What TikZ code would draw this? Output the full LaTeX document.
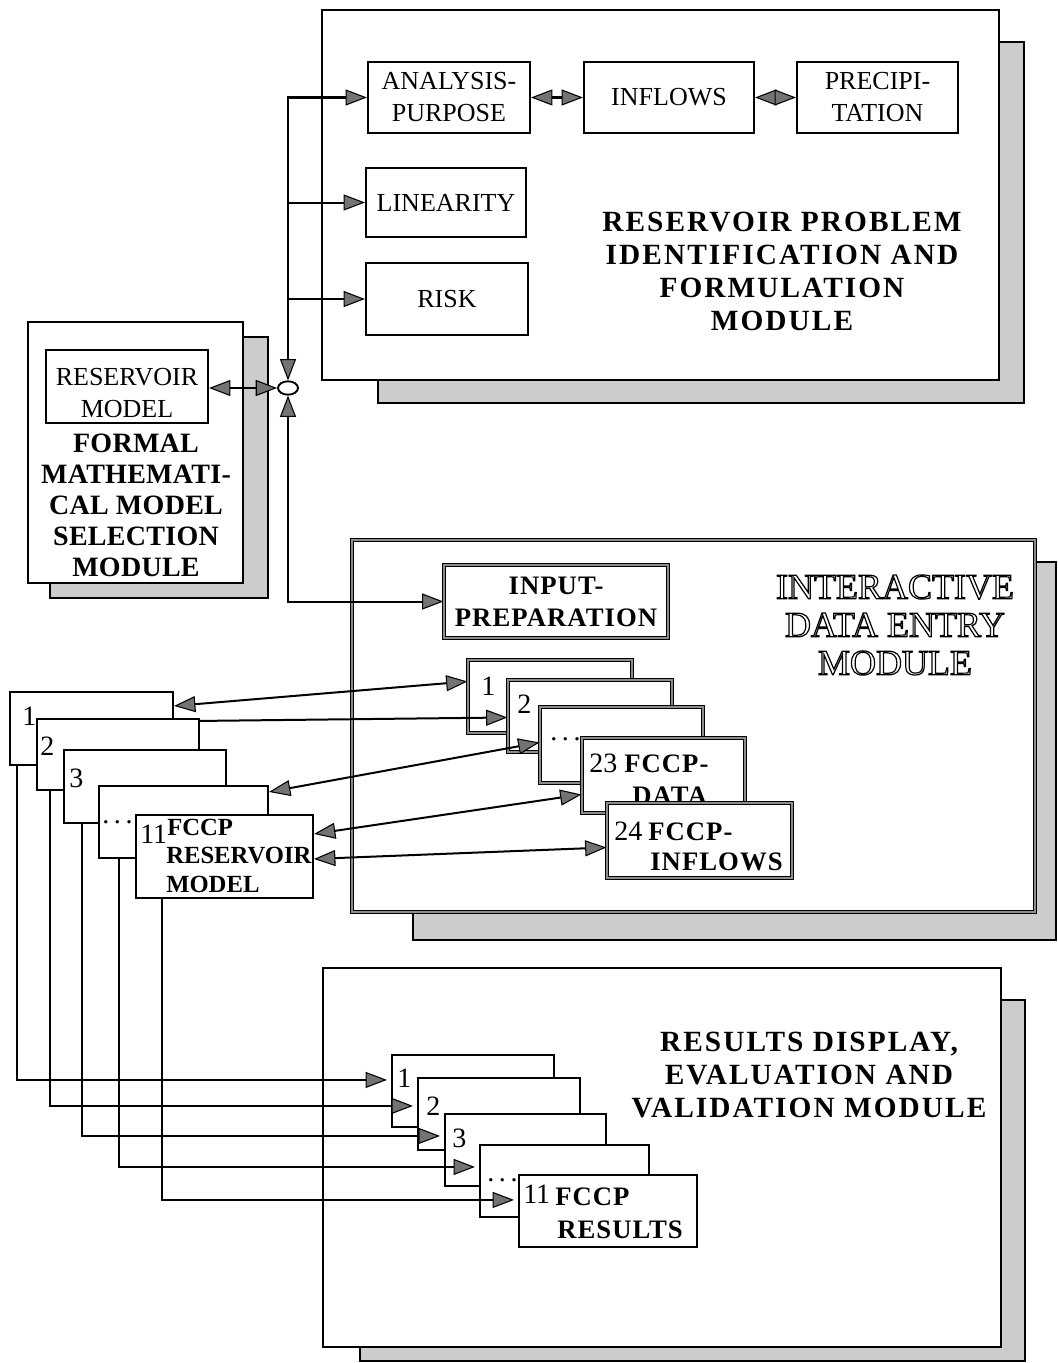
\documentclass[tikz,border=0pt]{standalone}
\usepackage{fontspec}
\setmainfont{Liberation Serif}
\newfontfamily\spA{Liberation Serif}[LetterSpace=4]
\newfontfamily\spB{Liberation Serif}[LetterSpace=7]
\newfontfamily\spC{Liberation Serif}[LetterSpace=1]
\usetikzlibrary{arrows.meta,calc,fit,shapes.geometric}
\newcommand{\olText}[1]{{\color{white}\special{pdf:literal direct 0 G 0.9 w 2 Tr}#1\special{pdf:literal direct 0 Tr}}}
\tikzset{
  GT/.tip={Triangle[length=16pt,width=12pt,fill=black!55,line width=0.8pt]},
  bx/.style={draw, line width=1.6pt, fill=white, inner sep=0pt},
  dbox/.style={draw=black, line width=0.8pt, double=black!45, double distance=1.1pt, fill=white, inner sep=0pt},
  shd/.style={fill=black!20, draw=black, line width=1.3pt},
  conn/.style={line width=1.5pt},
  plbl/.style={inner sep=0pt, align=center, font=\fontsize{19.5}{24}\selectfont},
  blbl/.style={inner sep=0pt, align=center, font=\spA\bfseries\fontsize{20}{24}\selectfont},
  numl/.style={inner sep=0pt, anchor=base west, font=\fontsize{21}{24}\selectfont},
  blab/.style={inner sep=0pt, anchor=base west, font=\spA\bfseries\fontsize{20}{24}\selectfont},
  blab0/.style={inner sep=0pt, anchor=base west, font=\bfseries\fontsize{18.5}{24}\selectfont},
  ttl/.style={inner sep=0pt, align=center, font=\spB\bfseries\fontsize{22}{24.75}\selectfont},
  ttlL/.style={inner sep=0pt, align=center, font=\spC\bfseries\fontsize{21}{23.25}\selectfont},
  ttlD/.style={inner sep=0pt, align=center, font=\fontsize{27}{28.5}\selectfont},
}
\begin{document}
\begin{tikzpicture}[x=0.75pt,y=-0.75pt]
\useasboundingbox (0,0) rectangle (1057,1363);
\fill[white] (0,0) rectangle (1057,1363);

% ---------- top module ----------
\draw[shd] (378,42) rectangle (1024,403);
\node[bx, fit={(322,10)(999,380)}] (modT) {};
\node[bx, fit={(368,62)(530,133)}] (ap) {};
\node[plbl] (apt) at (ap.center) {ANALYSIS-\\PURPOSE};
\node[bx, fit={(584,62)(754,133)}] (infl) {};
\node[plbl] (inflt) at (infl.center) {INFLOWS};
\node[bx, fit={(797,62)(958,133)}] (prec) {};
\node[plbl] (prect) at (prec.center) {PRECIPI-\\TATION};
\node[bx, fit={(366,168)(526,237)}] (lin) {};
\node[plbl] (lint) at (lin.center) {LINEARITY};
\node[bx, fit={(366,263)(528,335)}] (risk) {};
\node[plbl] (riskt) at (risk.center) {RISK};
\node[ttl] (ttop) at (782,271) {RESERVOIR PROBLEM\\IDENTIFICATION AND\\FORMULATION\\MODULE};

% ---------- left module ----------
\draw[shd] (50,337) rectangle (268,598);
\node[bx, fit={(28,322)(243,583)}] (modL) {};
\node[bx, fit={(46,350)(208,423)}] (rm) {};
\node[plbl] (rmt) at (127,393) {RESERVOIR\\MODEL};
\node[ttlL] (tleft) at (136,505) {FORMAL\\MATHEMATI-\\CAL MODEL\\SELECTION\\MODULE};

% ---------- junction ----------
\node[ellipse, draw, line width=1.4pt, fill=white, minimum width=15pt, minimum height=10pt, inner sep=0pt] (circ) at (288,388) {};

% ---------- data entry module ----------
\draw[shd] (413,562) rectangle (1056,940);
\node[dbox, fit={(352,540)(1035,912)}] (modD) {};
\node[dbox, fit={(444,565)(668,638)}] (ip) {};
\node[blbl] (ipt) at (ip.center) {INPUT-\\PREPARATION};
\node[ttlD] (tdata) at (895,625) {\olText{INTERACTIVE}\\\olText{DATA ENTRY}\\\olText{MODULE}};
\node[dbox, fit={(468,660)(632,733)}] (D1) {};
\node[numl] (d1t) at (481,695) {1};
\node[dbox, fit={(508,680)(672,752)}] (D2) {};
\node[numl] (d2t) at (517,713) {2};
\node[dbox, fit={(540,707)(703,783)}] (D3) {};
\node[numl] (d3t) at (550,740) {.\,.\,.};
\node[dbox, fit={(582,738)(745,813)}] (D23) {};
\node[numl] (d23n) at (589,772) {23};
\node[blab] (d23a) at (624,772) {FCCP-};
\node[blab] (d23b) at (632,804) {DATA};
\node[dbox, fit={(607,803)(792,878)}] (D24) {};
\node[numl] (d24n) at (614,840) {24};
\node[blab] (d24a) at (648,840) {FCCP-};
\node[blab] (d24b) at (650,870) {INFLOWS};

% ---------- left stack ----------
\node[bx, fit={(10,692)(173,765)}] (L1) {};
\node[numl] (l1t) at (22,725) {1};
\node[bx, fit={(37,719)(199,790)}] (L2) {};
\node[numl] (l2t) at (40,755) {2};
\node[bx, fit={(64,750)(226,823)}] (L3) {};
\node[numl] (l3t) at (69,787) {3};
\node[bx, fit={(99,786)(268,858)}] (L4) {};
\node[numl] (l4t) at (102,823) {.\,.\,.};
\node[bx, fit={(136,815)(313,898)}] (L5) {};
\node[numl] (l5n) at (140,843) {11};
\node[blab0] (l5a) at (167,835) {FCCP};
\node[blab0] (l5b) at (166,863) {RESERVOIR};
\node[blab0] (l5c) at (166,892) {MODEL};

% ---------- results module ----------
\draw[shd] (360,1000) rectangle (1025,1361);
\node[bx, fit={(323,968)(1001,1347)}] (modR) {};
\node[ttl] (tres) at (809,1075) {RESULTS DISPLAY,\\EVALUATION AND\\VALIDATION MODULE};
\node[bx, fit={(392,1055)(554,1127)}] (R1) {};
\node[numl] (r1t) at (397,1087) {1};
\node[bx, fit={(418,1078)(580,1150)}] (R2) {};
\node[numl] (r2t) at (426,1115) {2};
\node[bx, fit={(445,1114)(606,1186)}] (R3) {};
\node[numl] (r3t) at (452,1147) {3};
\node[bx, fit={(480,1145)(649,1217)}] (R4) {};
\node[numl] (r4t) at (487,1181) {.\,.\,.};
\node[bx, fit={(519,1175)(697,1247)}] (R5) {};
\node[numl] (r5n) at (523,1203) {11};
\node[blab] (r5a) at (555,1205) {FCCP};
\node[blab] (r5b) at (557,1238) {RESULTS};

% ---------- connectors: top ----------
\draw[conn, GT-GT] (ap.east) -- (infl.west);
\draw[conn, GT-GT] (infl.east) -- (prec.west);
\draw[conn, GT-GT] (ap.west) -| (circ.north);
\draw[conn, -GT] (lin.west -| circ.north) -- (lin.west);
\draw[conn, -GT] (risk.west -| circ.north) -- (risk.west);
\draw[conn, GT-GT] (rm.east |- circ.west) -- (circ.west);
\draw[conn, GT-GT] (circ.south) |- (ip.west);

% ---------- connectors: left stack <-> data stack ----------
\draw[conn, GT-GT] ($(L1.north east)+(0,15)$) -- ($(D1.north west)+(0,22)$);
\draw[conn, -GT] ($(L2.north east)+(0,3)$) -- ($(D2.north west)+(0,38)$);
\draw[conn, GT-GT] ($(L4.north east)+(0,7)$) -- ($(D3.north west)+(0,36)$);
\draw[conn, GT-GT] ($(L5.north east)+(0,20)$) -- ($(D23.north west)+(0,57)$);
\draw[conn, GT-GT] ($(L5.north east)+(0,45)$) -- ($(D24.north west)+(0,45)$);

% ---------- connectors: left stack -> results stack ----------
\draw[conn, -GT, shorten >=3pt] ($(L1.south west)+(8,0)$) |- ($(R1.north west)+(0,26)$);
\draw[conn, -GT, shorten >=3pt] ($(L2.south west)+(14,0)$) |- ($(R2.north west)+(0,29)$);
\draw[conn, -GT, shorten >=3pt] ($(L3.south west)+(19,0)$) |- ($(R3.north west)+(0,23)$);
\draw[conn, -GT, shorten >=3pt] ($(L4.south west)+(21,0)$) |- ($(R4.north west)+(0,23)$);
\draw[conn, -GT, shorten >=3pt] ($(L5.south west)+(27,0)$) |- ($(R5.north west)+(0,26)$);
\end{tikzpicture}
\end{document}
